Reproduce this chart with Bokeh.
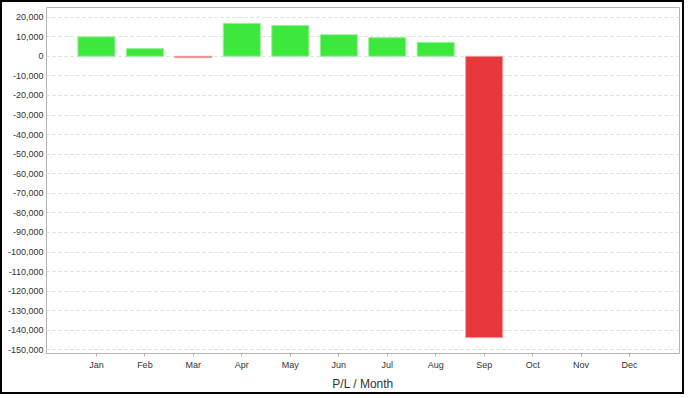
from bokeh.plotting import figure
from bokeh.models import Range1d, FactorRange, SingleIntervalTicker, NumeralTickFormatter, ColumnDataSource
from bokeh.embed import file_html
from bokeh.resources import INLINE

months = ["Jan", "Feb", "Mar", "Apr", "May", "Jun", "Jul", "Aug", "Sep", "Oct", "Nov", "Dec"]
pl_values = [9900, 3900, -700, 16800, 15700, 11000, 9500, 7100, -143700, 0, 0, 0]

pos_color = "#3de83d"
neg_color = "#e8383c"
colors = [pos_color if v >= 0 else neg_color for v in pl_values]
outline = ["#9af09a" if v >= 0 else "#f0a0a0" for v in pl_values]
alphas = [1.0 if v != 0 else 0.0 for v in pl_values]

src = ColumnDataSource(dict(month=months, value=pl_values, color=colors, outline=outline, alpha=alphas))

p = figure(
    width=684, height=394,
    x_range=FactorRange(factors=months, range_padding=1.06 / 12),
    y_range=Range1d(-151800, 24900),
    output_backend="svg", toolbar_location=None,
    min_border_left=44, min_border_right=7, min_border_top=5, min_border_bottom=43,
    styles={"position": "absolute", "left": "0px", "top": "0px",
            "border": "2px solid #000"},
)
p.vbar(x="month", top="value", bottom=0, width=0.765, source=src,
       fill_color="color", line_color="outline", line_width=1,
       fill_alpha="alpha", line_alpha="alpha")

p.outline_line_color = "#b4b4b4"
p.outline_line_width = 1
p.background_fill_color = "white"
p.border_fill_color = "white"

p.xgrid.grid_line_color = None
p.ygrid.grid_line_color = "#dcdcdc"
p.ygrid.grid_line_dash = "3 3"

p.yaxis.ticker = SingleIntervalTicker(interval=10000, num_minor_ticks=0)
p.yaxis.formatter = NumeralTickFormatter(format="0,0")
p.yaxis.major_tick_line_color = None
p.yaxis.major_tick_out = 0
p.yaxis.major_tick_in = 0
p.yaxis.minor_tick_line_color = None
p.yaxis.minor_tick_out = 0
p.yaxis.axis_line_color = None
p.yaxis.major_label_text_font = "Liberation Sans"
p.yaxis.major_label_text_font_size = "9px"
p.yaxis.major_label_text_color = "#333333"
p.yaxis.major_label_standoff = 3

p.xaxis.axis_line_color = None
p.xaxis.major_tick_line_color = "#b4b4b4"
p.xaxis.major_tick_out = 3
p.xaxis.major_tick_in = 0
p.xaxis.major_label_text_font = "Liberation Sans"
p.xaxis.major_label_text_font_size = "9px"
p.xaxis.major_label_text_color = "#333333"
p.xaxis.major_label_standoff = 3
p.xaxis.axis_label = "P/L / Month"
p.xaxis.axis_label_text_font = "Liberation Sans"
p.xaxis.axis_label_text_font_size = "12px"
p.xaxis.axis_label_text_font_style = "normal"
p.xaxis.axis_label_text_color = "#333333"
p.xaxis.axis_label_standoff = 4

open("out.html", "w").write(file_html(p, INLINE))
